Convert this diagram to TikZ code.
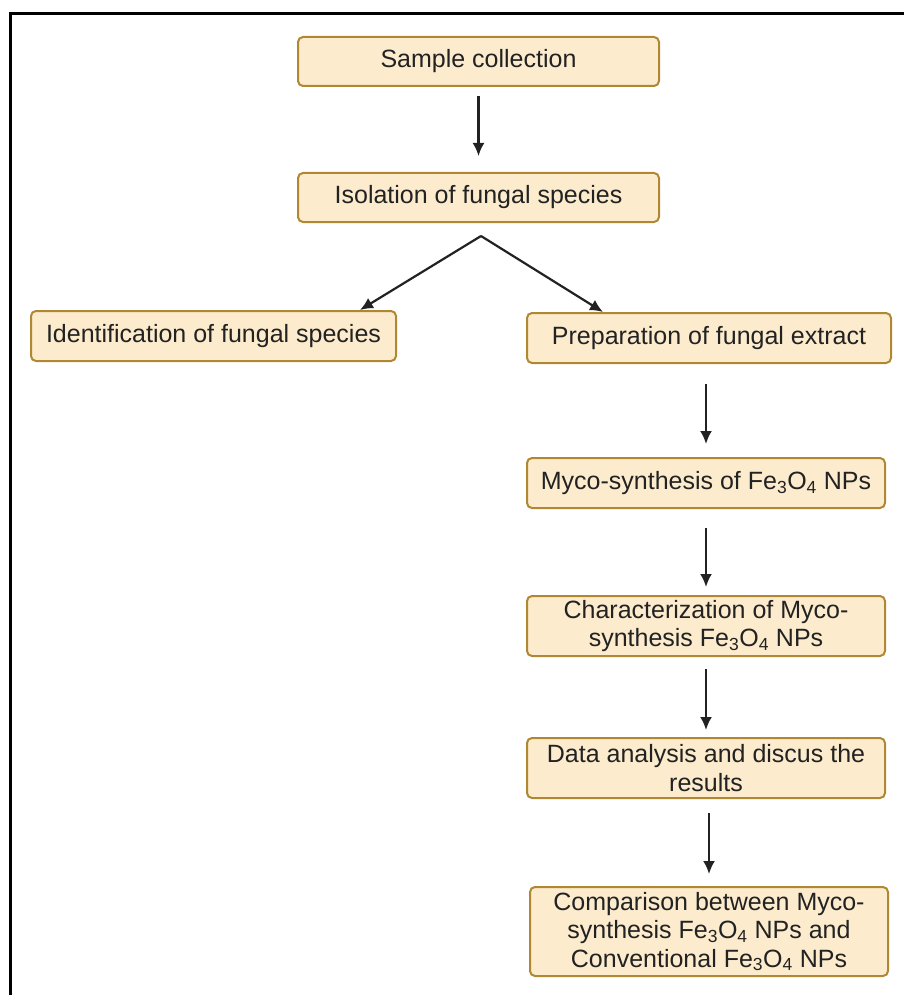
\documentclass[tikz,border=0pt]{standalone}
\usepackage{fontspec}
\setmainfont{Liberation Sans}
\usetikzlibrary{arrows.meta}
\definecolor{boxfill}{RGB}{252,236,205}
\definecolor{boxedge}{RGB}{176,136,52}
\definecolor{inkc}{RGB}{34,34,34}
\begin{document}
\begin{tikzpicture}[x=1pt,y=-1pt,
    stage/.style={draw=boxedge,fill=boxfill,line width=2pt,rounded corners=5pt,
        text=inkc,align=center,inner sep=0pt,
        font=\fontsize{25}{28.5}\selectfont},
    arr/.style={draw=inkc,line width=2.2pt,-{Latex[length=13pt,width=12pt]}}]
    \useasboundingbox (0,0) rectangle (904,995);

    % Bingkai luar
    \draw[line width=3pt] (10.5,995) -- (10.5,13.5) -- (904,13.5);

    % Kotak tahapan
    \node[stage,minimum width=361pt,minimum height=49pt] (samp) at (478.5,61.5) {Sample collection};
    \node[stage,minimum width=361pt,minimum height=49pt] (isol) at (478.5,197.5) {Isolation of fungal species};
    \node[stage,minimum width=365pt,minimum height=50pt] (ident) at (213.5,336) {Identification of fungal species};
    \node[stage,minimum width=364pt,minimum height=50pt] (prep) at (709,338) {Preparation of fungal extract};
    \node[stage,minimum width=358pt,minimum height=50pt] (myco) at (706,483) {Myco-synthesis of Fe\textsubscript{3}O\textsubscript{4} NPs};
    \node[stage,minimum width=358pt,minimum height=60pt] (charac) at (706,626) {Characterization of Myco-\\synthesis Fe\textsubscript{3}O\textsubscript{4} NPs};
    \node[stage,minimum width=358pt,minimum height=60pt] (data) at (706,768) {Data analysis and discus the\\results};
    \node[stage,minimum width=358pt,minimum height=89pt] (comp) at (709,931.5) {Comparison between Myco-\\synthesis Fe\textsubscript{3}O\textsubscript{4} NPs and\\Conventional Fe\textsubscript{3}O\textsubscript{4} NPs};

    % Titik percabangan
    \coordinate (split) at (481,236);

    % Panah
    \draw[arr,shorten <=9pt,shorten >=16pt] (samp) -- (isol);
    \draw[arr] (split) -- (ident.north -| 360,0);
    \draw[arr] (split) -- (prep.north -| 603,0);
    \draw[arr,shorten <=20pt,shorten >=13pt] (myco.north |- prep.south) -- (myco.north);
    \draw[arr,shorten <=19pt,shorten >=8pt] (myco) -- (charac);
    \draw[arr,shorten <=12pt,shorten >=7pt] (charac) -- (data);
    \draw[arr,shorten <=14pt,shorten >=12pt] (data.south -| comp.north) -- (comp.north);
\end{tikzpicture}
\end{document}
